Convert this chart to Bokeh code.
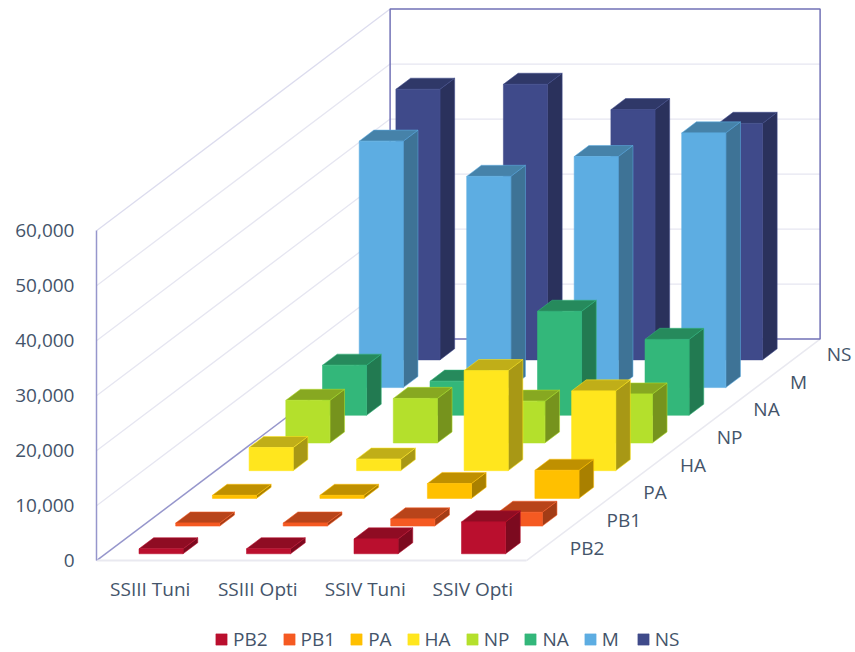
from bokeh.plotting import figure
from bokeh.models import FixedTicker, NumeralTickFormatter, Legend, LegendItem, ColumnDataSource
from bokeh.core.properties import value
from bokeh.embed import file_html
from bokeh.resources import INLINE

categories = ["SSIII Tuni", "SSIII Opti", "SSIV Tuni", "SSIV Opti"]
series_names = ["PB2", "PB1", "PA", "HA", "NP", "NA", "M", "NS"]
PB2 = [900, 900, 2700, 5800]
PB1 = [550, 550, 1300, 2500]
PA = [550, 550, 2700, 5100]
HA = [4200, 2100, 18200, 14500]
NP = [7750, 8100, 7600, 8900]
NA = [9100, 6200, 18900, 13800]
M = [44800, 38400, 42000, 46300]
NS = [49200, 50100, 45500, 43000]
series_values = [PB2, PB1, PA, HA, NP, NA, M, NS]
y_ticks = [0, 10000, 20000, 30000, 40000, 50000, 60000]

front_colors = ["#ba0f2e", "#f55a22", "#ffc000", "#ffe61e", "#b4e02c", "#33b77a", "#5dade2", "#3f4a8a"]
side_colors = ["#7c0a1f", "#a33c16", "#a98000", "#a89815", "#76931d", "#227a51", "#3e7396", "#2a315c"]
top_colors = ["#8f0c23", "#b8441a", "#bf9000", "#c0ae18", "#87a821", "#268a5c", "#4682a9", "#2f3868"]

TEXT = "#44546a"
FONT = "Open Sans"
FONT_SIZE = "19px"
WALL = "#7272b6"
AXIS = "#9696cc"
GRID = "#e6e6f1"
FLOOR = "#e9e9f0"

# pixel scale of the oblique projection
PX_PER_CAT = 107.5
PX_PER_VAL = 5.5 / 1000
DX = 36.7 / PX_PER_CAT       # category units moved per series slot of depth
DY = 27.7 / PX_PER_VAL       # value units moved per series slot of depth
N_D = len(series_names)
N_C = len(categories)
W, H = 855, 652
LEFT = 96
ZERO_PAGE_Y = 560.2          # page y of the value 0 on the front plane


def proj(c, v, d):
    return c + d * DX, v + d * DY


p = figure(
    width=W, height=H, output_backend="svg", toolbar_location=None,
    x_range=(0, (W - LEFT) / PX_PER_CAT),
    y_range=((ZERO_PAGE_Y - H) / PX_PER_VAL, ZERO_PAGE_Y / PX_PER_VAL),
    min_border_left=LEFT, min_border_right=0, min_border_top=0, min_border_bottom=0,
    outline_line_color=None, background_fill_color="white", border_fill_color="white",
)
p.grid.visible = False

# axes
yax = p.yaxis[0]
yax.ticker = FixedTicker(ticks=y_ticks)
yax.formatter = NumeralTickFormatter(format="0,0")
yax.bounds = (y_ticks[0], y_ticks[-1])
yax.major_tick_line_color = None
yax.minor_tick_line_color = None
yax.axis_line_color = AXIS
yax.axis_line_width = 1.5
yax.major_label_standoff = 16
yax.major_label_text_color = TEXT
yax.major_label_text_font = FONT
yax.major_label_text_font_size = FONT_SIZE

xax = p.xaxis[0]
xax.fixed_location = 0
xax.ticker = FixedTicker(ticks=[i + 0.5 for i in range(N_C)])
xax.major_label_overrides = {i + 0.5: c for i, c in enumerate(categories)}
xax.bounds = (0, N_C)
xax.major_tick_line_color = None
xax.minor_tick_line_color = None
xax.axis_line_color = FLOOR
xax.axis_line_width = 2
xax.major_label_standoff = 9
xax.major_label_text_color = TEXT
xax.major_label_text_font = FONT
xax.major_label_text_font_size = FONT_SIZE

# grid lines on the side wall and back wall
for t in y_ticks[1:-1]:
    x0, y0 = proj(0, t, 0)
    x1, y1 = proj(0, t, N_D)
    x2, y2 = proj(N_C, t, N_D)
    p.line([x0, x1, x2], [y0, y1, y2], line_color=GRID, line_width=1.3)
top = y_ticks[-1]
x0, y0 = proj(0, top, 0)
x1, y1 = proj(0, top, N_D)
p.line([x0, x1], [y0, y1], line_color="#dcdcee", line_width=1.3)

# floor edges and back wall frame
x0, y0 = proj(N_C, 0, 0)
x1, y1 = proj(N_C, 0, N_D)
p.line([x0, x1], [y0, y1], line_color=FLOOR, line_width=1.5)
x0, y0 = proj(0, 0, 0)
x1, y1 = proj(0, 0, N_D)
p.line([x0, x1], [y0, y1], line_color=AXIS, line_width=1.5)
corners = [proj(0, 0, N_D), proj(0, top, N_D), proj(N_C, top, N_D), proj(N_C, 0, N_D), proj(0, 0, N_D)]
p.line([a for a, _ in corners], [b for _, b in corners], line_color=WALL, line_width=1.5)

# bars, back to front
BAR_L, BAR_R = 0.31, 0.72
D_F, D_B = 0.25, 0.65
front_renderers = {}
for i in reversed(range(N_D)):
    fx, fy, sx, sy, tx, ty = [], [], [], [], [], []
    for j, v in enumerate(series_values[i]):
        cl, cr = j + BAR_L, j + BAR_R
        a = proj(cl, 0, i + D_F)
        b = proj(cr, 0, i + D_F)
        c = proj(cr, v, i + D_F)
        e = proj(cl, v, i + D_F)
        f = proj(cr, 0, i + D_B)
        g = proj(cr, v, i + D_B)
        h = proj(cl, v, i + D_B)
        fx.append([a[0], b[0], c[0], e[0]]); fy.append([a[1], b[1], c[1], e[1]])
        sx.append([b[0], f[0], g[0], c[0]]); sy.append([b[1], f[1], g[1], c[1]])
        tx.append([e[0], c[0], g[0], h[0]]); ty.append([e[1], c[1], g[1], h[1]])
    line_kw = dict(line_color=front_colors[i], line_alpha=0.55, line_width=1)
    p.patches(sx, sy, fill_color=side_colors[i], **line_kw)
    p.patches(tx, ty, fill_color=top_colors[i], **line_kw)
    front_renderers[i] = p.patches(fx, fy, fill_color=front_colors[i], **line_kw)

# depth axis labels
lab_pts = [proj(N_C, 0, i + 0.5) for i in range(N_D)]
lab_src = ColumnDataSource(dict(x=[a for a, _ in lab_pts], y=[b for _, b in lab_pts], t=series_names))
p.text(x="x", y="y", text="t", source=lab_src, x_offset=25, y_offset=1,
       text_color=TEXT, text_font=value(FONT), text_font_size=FONT_SIZE,
       text_align="left", text_baseline="middle")

legend = Legend(
    items=[LegendItem(label=n, renderers=[front_renderers[i]]) for i, n in enumerate(series_names)],
    orientation="horizontal", location=(118, 0),
    glyph_width=14, glyph_height=14, label_standoff=5, spacing=14,
    padding=0, margin=0, border_line_color=None, background_fill_alpha=0,
    label_text_color=TEXT, label_text_font=FONT, label_text_font_size=FONT_SIZE,
)
p.add_layout(legend, "center")

open("out.html", "w").write(file_html(p, INLINE))
